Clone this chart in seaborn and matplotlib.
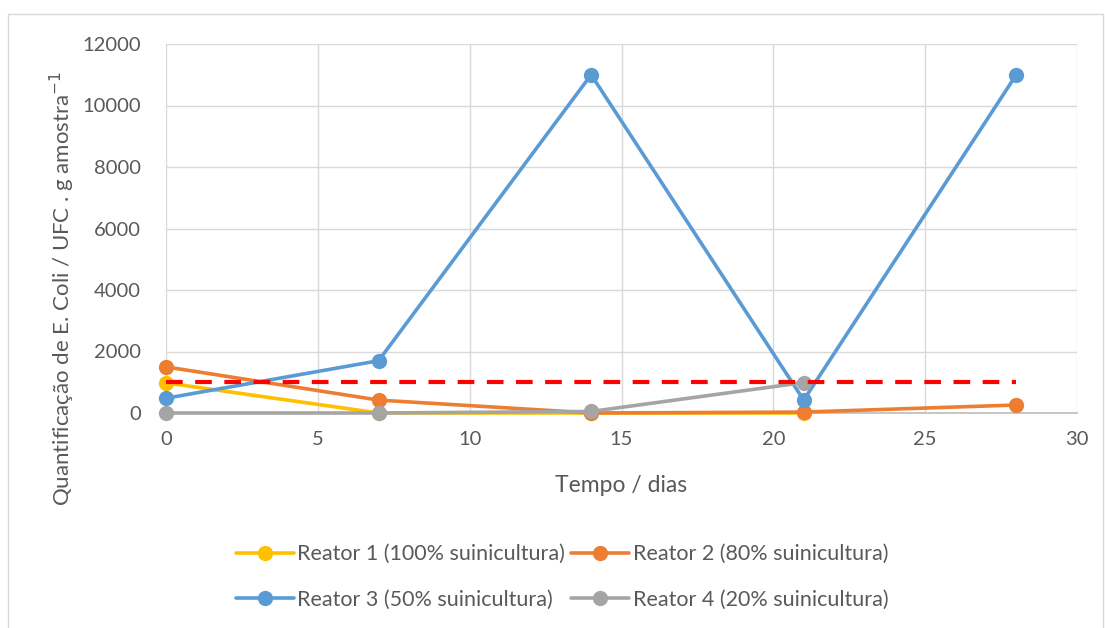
import matplotlib
matplotlib.use("Agg")
import matplotlib.pyplot as plt
import matplotlib.patches as mpatches
from matplotlib.lines import Line2D
import seaborn as sns
import pandas as pd

# Sampling days and E. coli counts per reactor
dias = [0, 7, 14, 21, 28]
reator1 = [980, 0, 0, 0]
reator2 = [1500, 420, 0, 30, 260]
reator3 = [480, 1700, 11000, 420, 11000]
reator4 = [0, 0, 50, 990]
limite = [1000, 1000, 1000, 1000, 1000]

nomes = ["Reator 1 (100% suinicultura)", "Reator 2 (80% suinicultura)",
         "Reator 3 (50% suinicultura)", "Reator 4 (20% suinicultura)"]
cores = ["#FFC000", "#ED7D31", "#5B9BD5", "#A5A5A5"]

series = [reator1, reator2, reator3, reator4]
rows = []
for nome, vals in zip(nomes, series):
    for d, v in zip(dias, vals):
        rows.append({"dia": d, "ufc": v, "reator": nome})
df = pd.DataFrame(rows)

sns.set_theme(style="white")
plt.rcParams["font.family"] = ["Lato", "DejaVu Sans"]
texto = "#595959"

fig = plt.figure(figsize=(11.05, 6.28), dpi=100)
ax = fig.add_axes([166 / 1105, 1 - 413 / 628, (1077 - 166) / 1105, (413 - 44) / 628])

# Chart frame
fig.patches.append(mpatches.Rectangle((8 / 1105, -0.01), 1095 / 1105, 1 - 14 / 628 + 0.01,
                                      transform=fig.transFigure, fill=False,
                                      edgecolor="#D9D9D9", linewidth=1.0))

sns.lineplot(data=df, x="dia", y="ufc", hue="reator", hue_order=nomes,
             palette=cores, marker="o", markersize=11, markeredgewidth=0,
             linewidth=2.6, legend=False, ax=ax, zorder=3, clip_on=False)
sns.lineplot(x=dias, y=limite, color="#FF0000", linewidth=3, ax=ax, zorder=4,
             legend=False, clip_on=False)
ax.lines[-1].set_dashes([4, 3])

ax.set_xlim(0, 30)
ax.set_ylim(0, 12000)
ax.set_xticks(range(0, 31, 5))
ax.set_yticks(range(0, 12001, 2000))
ax.grid(True, color="#D9D9D9", linewidth=1)
ax.set_axisbelow(True)
for s in ["top", "right", "left"]:
    ax.spines[s].set_visible(False)
ax.spines["bottom"].set_color("#BFBFBF")
ax.tick_params(axis="both", colors=texto, labelsize=14.5, length=0)
ax.tick_params(axis="x", pad=13)
ax.tick_params(axis="y", pad=18)
ax.set_xlabel("")
ax.set_ylabel("")

fig.text((166 + 1077) / 2 / 1105, 1 - 485 / 628, "Tempo / dias", ha="center", va="center",
         fontsize=16.5, color=texto)
fig.text(62 / 1105, 1 - 288 / 628,
         "Quantificação de E. Coli / UFC . g amostra$^{-1}$", rotation=90,
         ha="center", va="center", fontsize=16, color=texto)

# legend laid out row by row: R1 R2 / R3 R4
ordem = [0, 2, 1, 3]
handles = [Line2D([0], [0], color=cores[i], linewidth=2.6, marker="o", markersize=11,
                  markeredgewidth=0) for i in ordem]
fig.legend(handles, [nomes[i] for i in ordem], loc="center",
           bbox_to_anchor=(562 / 1105, 1 - 577 / 628),
           ncol=2, frameon=False, fontsize=15.5, labelcolor=texto, handlelength=2.7,
           handletextpad=0.15, columnspacing=0.3, labelspacing=1.2)

fig.savefig("out.png", dpi=100)
